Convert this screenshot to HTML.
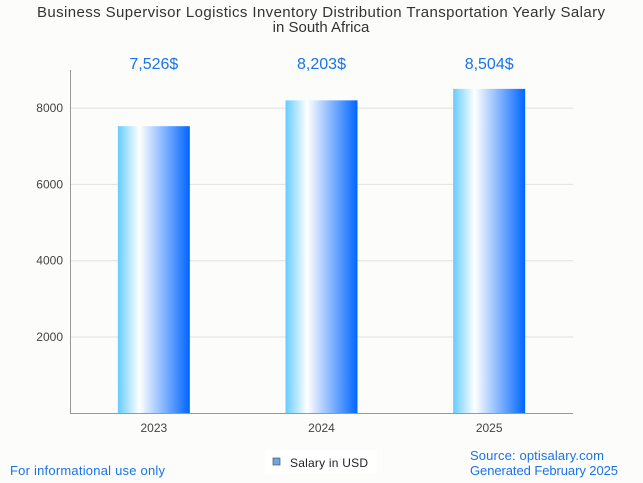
<!DOCTYPE html>
<html><head><meta charset="utf-8"><style>
body{margin:0;background:#fcfcfa;}
svg{display:block;font-family:"Liberation Sans",sans-serif;}
</style></head><body>
<svg id="chart" width="643" height="483">
<defs><linearGradient id="bg" x1="0" x2="1" y1="0" y2="0">
<stop offset="0" stop-color="#66ccff"/><stop offset="0.3" stop-color="#ffffff"/><stop offset="1" stop-color="#0066ff"/>
</linearGradient></defs>
<rect width="643" height="483" fill="#fcfcfa"/>
<text x="321" y="17" text-anchor="middle" font-size="15" textLength="568" fill="#333">Business Supervisor Logistics Inventory Distribution Transportation Yearly Salary</text>
<text x="321" y="32" text-anchor="middle" font-size="15" fill="#333">in South Africa</text>
<g id="grid"></g><g id="bars"></g><g id="labels"></g>
<line x1="70.5" y1="70" x2="70.5" y2="413" stroke="#999"/>
<line x1="70" y1="413.5" x2="573" y2="413.5" stroke="#999"/>
<text x="10" y="475" font-size="13" textLength="155" fill="#1a73e8">For informational use only</text>
<rect x="265" y="450" width="112" height="24" fill="#fff"/>
<rect x="273" y="458" width="7" height="7" fill="#6aa6e8" stroke="#555" stroke-width="0.7"/>
<text x="290" y="467" font-size="12" textLength="78" fill="#222">Salary in USD</text>
<text x="470" y="460" font-size="13" textLength="134" fill="#1a73e8">Source: optisalary.com</text>
<text x="470" y="475" font-size="13" textLength="148" fill="#1a73e8">Generated February 2025</text>
</svg>
<script>
const categories=["2023","2024","2025"];
const values=[7526,8203,8504];
const valueLabels=["7,526$","8,203$","8,504$"];
const yTicks=[2000,4000,6000,8000];
const NS="http://www.w3.org/2000/svg";
const x0=70,x1=573,yBase=413.3,pxPer=76.3/2000;
const y=v=>yBase-v*pxPer;
const band=(x1-x0)/categories.length;
const xc=i=>x0+band*(i+0.5);
function mk(t,a,p){const e=document.createElementNS(NS,t);for(const k in a)e.setAttribute(k,a[k]);document.getElementById(p).appendChild(e);return e;}
yTicks.forEach(t=>{
 const l=mk("line",{x1:x0,x2:x1,y1:y(t),y2:y(t),stroke:"#e0e0e0"},"grid");
 
 
 const tx=mk("text",{x:63,y:y(t)+4,"text-anchor":"end","font-size":12,fill:"#444"},"labels");
 tx.textContent=t;
 
 
});
categories.forEach((c,i)=>{
 const b=mk("rect",{x:xc(i)-36,width:72,y:y(values[i]),height:yBase-y(values[i]),fill:"url(#bg)"},"bars");
 
 
 const v=mk("text",{x:xc(i),y:69,"text-anchor":"middle","font-size":16,fill:"#1a73e8"},"labels");
 v.textContent=valueLabels[i];
 
 
 const xl=mk("text",{x:xc(i),y:432,"text-anchor":"middle","font-size":12,fill:"#444"},"labels");
 xl.textContent=c;
 
 
});
</script>
</body></html>
